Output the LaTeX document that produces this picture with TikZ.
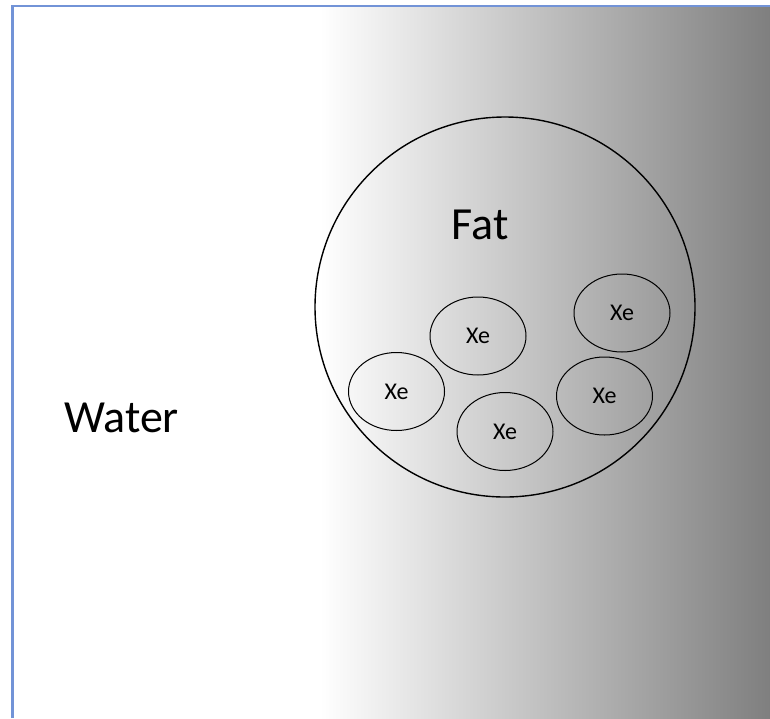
\documentclass[tikz,border=0pt]{standalone}
\usepackage{fontspec}
\setmainfont{Carlito}
\usetikzlibrary{shapes.geometric}
\definecolor{frameblue}{RGB}{114,147,215}
\definecolor{deepgray}{RGB}{127,127,127}
\tikzset{
  xebox/.style={draw=black, line width=1pt, ellipse, minimum width=96pt, minimum height=78pt, inner sep=0pt, font=\fontsize{24}{28}\selectfont},
  biglabel/.style={inner sep=0pt, anchor=base},
}
\begin{document}
\begin{tikzpicture}[x=1pt,y=-1pt]
\useasboundingbox (0,0) rectangle (770,718);
\fill[white] (0,0) rectangle (770,718);
% gradient region
\shade[left color=white, right color=deepgray] (320,6) rectangle (770,718);
% frame lines
\draw[frameblue, line width=2.5pt] (12.5,718) -- (12.5,6) -- (770,6);
% fat circle
\node[draw=black, line width=1.4pt, circle, minimum size=380pt, inner sep=0pt] (fat) at (505,307) {};
\node[biglabel, font=\fontsize{46}{54}\selectfont] (fatlabel) at (480,239) {Fat};
\node[biglabel, font=\fontsize{46}{54}\selectfont] (water) at (121.5,432) {Water};
% xenon ellipses
\node[xebox] (xe1) at (478,336) {Xe};
\node[xebox] (xe2) at (396.5,391.5) {Xe};
\node[xebox] (xe3) at (505,431.5) {Xe};
\node[xebox] (xe4) at (622,313) {Xe};
\node[xebox] (xe5) at (604.5,396) {Xe};
\end{tikzpicture}
\end{document}
